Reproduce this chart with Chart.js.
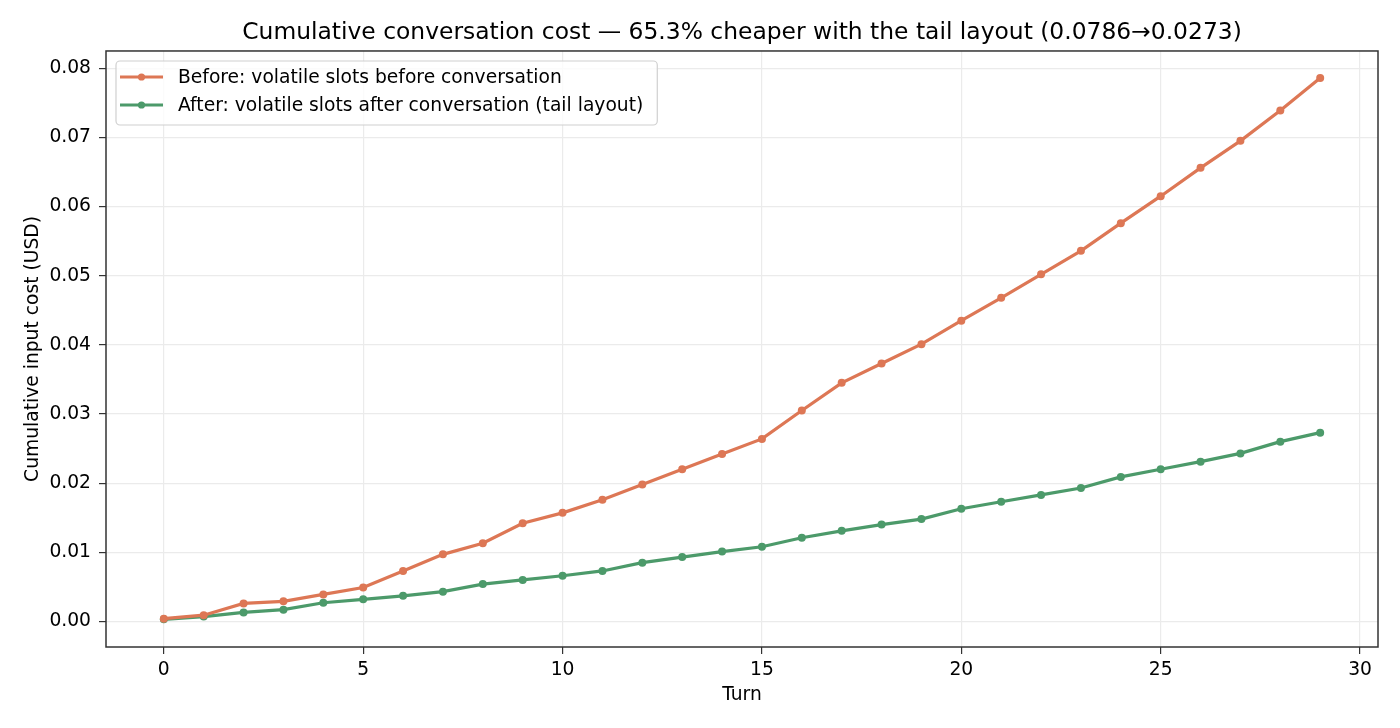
<!DOCTYPE html>
<html>
<head>
<meta charset="utf-8">
<script src="https://cdn.jsdelivr.net/npm/chart.js@4.4.1/dist/chart.umd.min.js"></script>
<style>
  html, body { margin: 0; padding: 0; background: #fff; }
  #wrap { width: 1400px; height: 728px; }
</style>
</head>
<body>
<div id="wrap"><canvas id="costChart"></canvas></div>
<script>
// Datos
const turns = [0,1,2,3,4,5,6,7,8,9,10,11,12,13,14,15,16,17,18,19,20,21,22,23,24,25,26,27,28,29];
const beforeCost = [0.0004, 0.0009, 0.0026, 0.0029, 0.0039, 0.0049, 0.0073, 0.0097, 0.0113, 0.0142,
                    0.0157, 0.0176, 0.0198, 0.0220, 0.0242, 0.0264, 0.0305, 0.0345, 0.0373, 0.0401,
                    0.0435, 0.0468, 0.0502, 0.0536, 0.0576, 0.0615, 0.0656, 0.0695, 0.0739, 0.0786];
const afterCost = [0.0003, 0.0007, 0.0013, 0.0017, 0.0027, 0.0032, 0.0037, 0.0043, 0.0054, 0.0060,
                   0.0066, 0.0073, 0.0085, 0.0093, 0.0101, 0.0108, 0.0121, 0.0131, 0.0140, 0.0148,
                   0.0163, 0.0173, 0.0183, 0.0193, 0.0209, 0.0220, 0.0231, 0.0243, 0.0260, 0.0273];
const xTicks = [0, 5, 10, 15, 20, 25, 30];
const yTicks = [0, 0.01, 0.02, 0.03, 0.04, 0.05, 0.06, 0.07, 0.08];

const labels = ['Before: volatile slots before conversation',
                'After: volatile slots after conversation (tail layout)'];
const colors = ['#dd7755', '#4c9a6a'];

const FONT = 'DejaVu Sans';
const TXT = 18.7;

// Marco completo del área (como los spines de matplotlib)
const frame = {
    id: 'frame',
    afterLayout(chart) {
        // centrar el título sobre el área del gráfico
        const a = chart.chartArea;
        if (chart.titleBlock) {
            chart.titleBlock.left = a.left;
            chart.titleBlock.right = a.right;
        }
    },
    afterDraw(chart) {
        const { ctx, chartArea: a } = chart;
        ctx.save();
        ctx.strokeStyle = '#333';
        ctx.lineWidth = 1.5;
        ctx.strokeRect(a.left, a.top, a.right - a.left, a.bottom - a.top);
        ctx.restore();
    }
};

// Leyenda dentro del área, arriba a la izquierda
const innerLegend = {
    id: 'innerLegend',
    afterDraw(chart) {
        const { ctx, chartArea: a } = chart;
        const x = a.left + 10, y = a.top + 10;
        const rowH = 28;
        ctx.save();
        ctx.font = TXT + 'px ' + FONT;
        let maxW = 0;
        chart.data.datasets.forEach(ds => { maxW = Math.max(maxW, ctx.measureText(ds.label).width); });
        const w = 62 + maxW + 14, h = rowH * chart.data.datasets.length + 8;
        ctx.fillStyle = 'rgba(255,255,255,0.8)';
        ctx.strokeStyle = '#d0d0d0';
        ctx.lineWidth = 1.2;
        ctx.beginPath();
        ctx.roundRect(x, y, w, h, 4);
        ctx.fill();
        ctx.stroke();
        chart.data.datasets.forEach((ds, i) => {
            const cy = y + 16 + i * rowH;
            ctx.strokeStyle = ds.borderColor;
            ctx.lineWidth = 3.2;
            ctx.beginPath();
            ctx.moveTo(x + 4, cy);
            ctx.lineTo(x + 47, cy);
            ctx.stroke();
            ctx.fillStyle = ds.borderColor;
            ctx.beginPath();
            ctx.arc(x + 25.5, cy, 3.6, 0, Math.PI * 2);
            ctx.fill();
            ctx.fillStyle = '#000';
            ctx.textBaseline = 'middle';
            ctx.fillText(ds.label, x + 62, cy + 1);
        });
        ctx.restore();
    }
};

const ctx = document.getElementById('costChart').getContext('2d');
const costChart = new Chart(ctx, {
    type: 'line',
    data: {
        datasets: [beforeCost, afterCost].map((vals, i) => ({
            label: labels[i],
            data: turns.map((t, j) => ({ x: t, y: vals[j] })),
            borderColor: colors[i],
            backgroundColor: colors[i],
            borderWidth: 3.2,
            pointRadius: 4,
            pointBorderWidth: 0,
            pointHoverRadius: 4,
            tension: 0,
            fill: false
        }))
    },
    options: {
        responsive: true,
        maintainAspectRatio: false,
        animation: false,
        layout: { padding: { left: 0, right: 22, top: 0, bottom: 0 } },
        plugins: {
            legend: { display: false },
            tooltip: { enabled: false },
            title: {
                display: true,
                text: 'Cumulative conversation cost — 65.3% cheaper with the tail layout (0.0786→0.0273)',
                color: '#000',
                font: { family: FONT, size: 23.4, weight: 'normal' },
                padding: { top: 18.5, bottom: 4.4 }
            }
        },
        scales: {
            x: {
                type: 'linear',
                min: -1.45,
                max: 30.45,
                afterBuildTicks: s => { s.ticks = xTicks.map(v => ({ value: v })); },
                afterFit: s => { s.height = 81; },
                border: { display: false },
                grid: { color: '#ebebeb', lineWidth: 1.2, tickColor: '#333', tickLength: 7 },
                ticks: { color: '#000', font: { family: FONT, size: TXT }, padding: 5, maxRotation: 0 },
                title: {
                    display: true, text: 'Turn', color: '#000',
                    font: { family: FONT, size: TXT }, padding: { top: 0, bottom: 21.3 }
                }
            },
            y: {
                min: -0.0037,
                max: 0.0825,
                afterBuildTicks: s => { s.ticks = yTicks.map(v => ({ value: v })); },
                afterFit: s => { s.width = 106; },
                border: { display: false },
                grid: { color: '#ebebeb', lineWidth: 1.2, tickColor: '#333', tickLength: 7 },
                ticks: {
                    color: '#000', font: { family: FONT, size: TXT }, padding: 8,
                    callback: v => v.toFixed(2)
                },
                title: {
                    display: true, text: 'Cumulative input cost (USD)', color: '#000',
                    font: { family: FONT, size: TXT }, padding: { top: 22, bottom: 0 }
                }
            }
        }
    },
    plugins: [frame, innerLegend]
});
</script>
</body>
</html>
